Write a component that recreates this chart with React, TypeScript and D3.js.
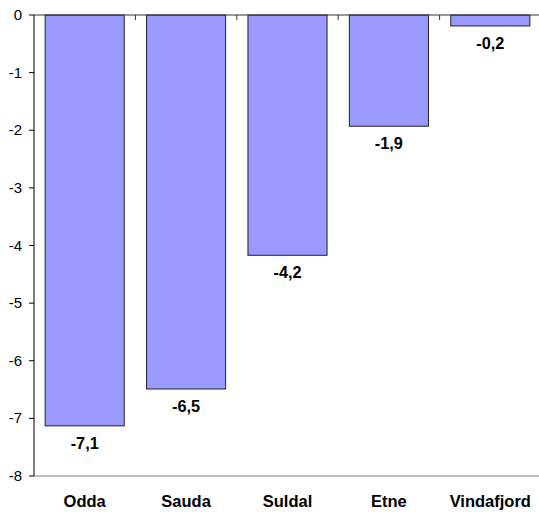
import React from "react";
import * as d3 from "d3";

const categories = ["Odda", "Sauda", "Suldal", "Etne", "Vindafjord"];
const values = [-7.13, -6.49, -4.17, -1.93, -0.19];
const yTicks = [0, -1, -2, -3, -4, -5, -6, -7, -8];

const W = 539;
const H = 512;
const left = 34;
const right = 541;
const top = 15;
const bottom = 476;

export default function App() {
  const x = d3.scaleBand<string>().domain(categories).range([left, right]).paddingInner(0.22).paddingOuter(0.11);
  const xb = d3.scaleBand<string>().domain(categories).range([left, right]);
  const y = d3.scaleLinear().domain([0, -8]).range([top, bottom]);
  const fmt = (v: number) => d3.format(".1f")(v).replace(".", ",").replace("−", "-");
  const font = "Liberation Sans, Arial, sans-serif";
  return (
    <svg width={W} height={H} style={{ position: "absolute", left: 0, top: 0 }} fontFamily={font}>
      <rect x={0} y={0} width={W} height={H} fill="#fff" />
      <line x1={left} x2={W} y1={y(-8)} y2={y(-8)} stroke="#808080" strokeWidth={1} />
      {categories.map((c, i) => {
        const v = values[i];
        const bx = x(c)!;
        const bw = x.bandwidth();
        return (
          <g key={c}>
            <rect x={bx} y={y(0)} width={bw} height={y(v) - y(0)} fill="#9999FF" stroke="#222" strokeWidth={1} />
            <text x={bx + bw / 2} y={y(v) + 23} textAnchor="middle" fontWeight="bold" fontSize={16.3} fill="#000">
              {fmt(v)}
            </text>
            <text x={xb(c)! + xb.bandwidth() / 2} y={507} textAnchor="middle" fontWeight="bold" fontSize={16.5} fill="#000">
              {c}
            </text>
          </g>
        );
      })}
      <line x1={left} x2={W} y1={y(0)} y2={y(0)} stroke="#333" strokeWidth={1} />
      {categories.slice(1).map((c) => (
        <line key={c} x1={xb(c)!} x2={xb(c)!} y1={y(0)} y2={y(0) + 5} stroke="#333" strokeWidth={1} />
      ))}
      <line x1={left} x2={left} y1={y(0)} y2={y(-8)} stroke="#000" strokeWidth={1} />
      {yTicks.map((t) => (
        <g key={t}>
          <line x1={left - 5} x2={left} y1={y(t)} y2={y(t)} stroke="#000" strokeWidth={1} />
          <text x={22} y={y(t) + 5} textAnchor="end" fontSize={15} fill="#000">
            {t === 0 ? "0" : String(t)}
          </text>
        </g>
      ))}
    </svg>
  );
}
